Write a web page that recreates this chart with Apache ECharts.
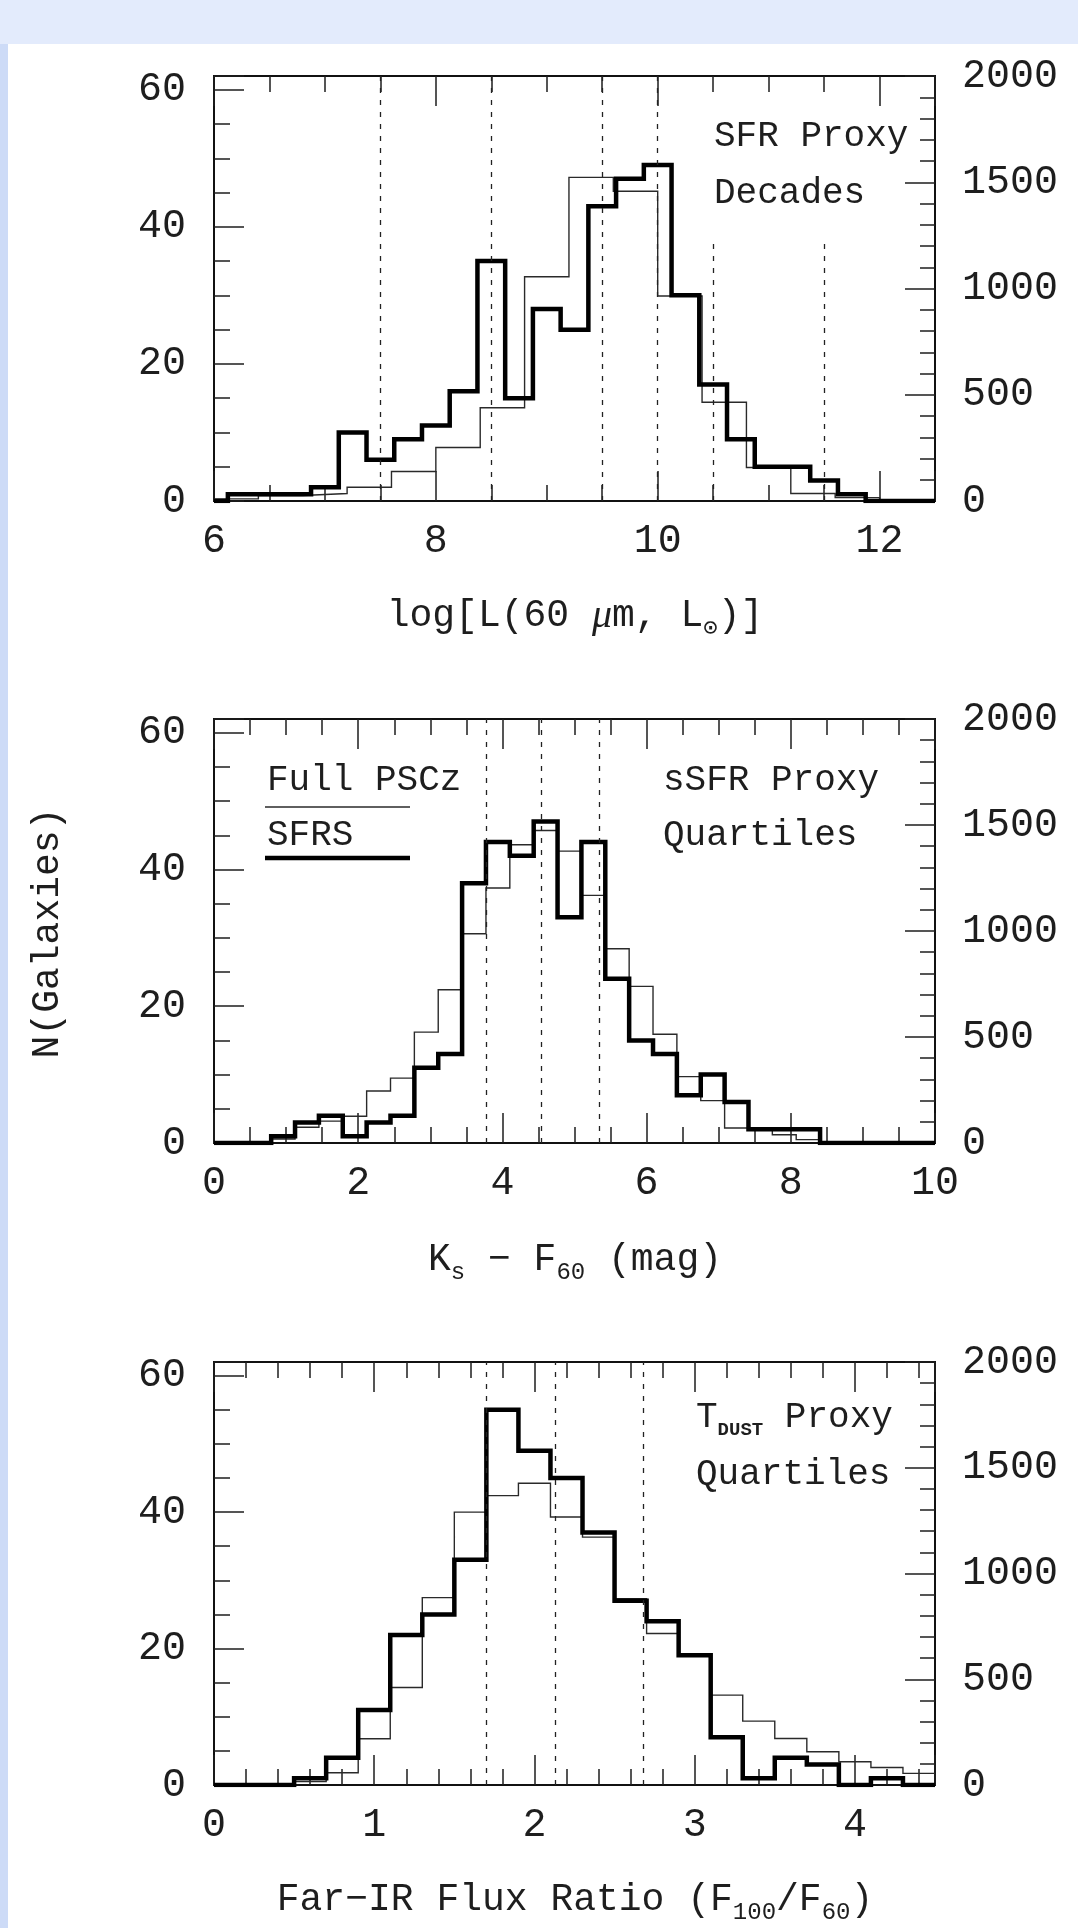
<!DOCTYPE html>
<html>
<head>
<meta charset="utf-8">
<title>SFRS vs PSCz histograms</title>
<script src="https://cdn.jsdelivr.net/npm/echarts@6/dist/echarts.min.js"></script>
<style>
  html, body { margin: 0; padding: 0; background: #e3ebfc; }
  #strip { position: absolute; left: 0; top: 44px; width: 8px; height: 1884px; background: #cddbf7; }
  #paper { position: absolute; left: 8px; top: 44px; width: 1070px; height: 1884px; background: #fff; }
  #main { position: absolute; left: 0; top: 0; width: 1078px; height: 1928px; }
</style>
</head>
<body>
<div id="strip"></div>
<div id="paper"></div>
<div id="main"></div>
<script>
// panel 1 : log L(60um)
var lirRange = [6, 12.5];
var lirSfrsStart = 5.875, lirSfrsWidth = 0.25;
var lirSfrs = [0, 1, 1, 1, 2, 10, 6, 9, 11, 16, 35, 15, 28, 25, 43, 47, 49, 30, 17, 9, 5, 5, 3, 1, 0, 0, 0];
var lirPsczStart = 6.0, lirPsczWidth = 0.4;
var lirPscz = [10, 26, 35, 65, 139, 252, 439, 1055, 1523, 1458, 965, 465, 158, 35, 16, 3, 0];
var lirDecades = [7.5, 8.5, 9.5, 10, 10.5, 11.5];
var lirDecadeTops = [62, 62, 62, 62, 38, 38];

// panel 2 : Ks - F60
var kfRange = [0, 10];
var kfStart = -0.2, kfWidth = 0.331;
var kfSfrs = [0, 0, 0, 1, 3, 4, 1, 3, 4, 11, 13, 38, 44, 42, 47, 33, 44, 24, 15, 13, 7, 10, 6, 2, 2, 2, 0, 0, 0, 0, 0];
var kfPscz = [0, 0, 6, 19, 74, 103, 126, 245, 306, 523, 723, 987, 1203, 1407, 1474, 1377, 1168, 916, 739, 513, 313, 200, 71, 65, 39, 16, 0, 0, 0, 0, 0];
var kfQuartiles = [3.77, 4.54, 5.34];

// panel 3 : F100/F60
var frRange = [0, 4.5];
var frStart = -0.1, frWidth = 0.2;
var frSfrs = [0, 0, 0, 1, 4, 11, 22, 25, 33, 55, 49, 45, 37, 27, 24, 19, 7, 1, 4, 3, 0, 1, 0];
var frPscz = [0, 0, 0, 16, 58, 219, 461, 886, 1290, 1368, 1427, 1267, 1172, 881, 716, 614, 425, 302, 220, 157, 110, 83, 55];
var frQuartiles = [1.7, 2.13, 2.68];

var leftRange = [0, 62];
var rightRange = [0, 2000];

var FONT = 'Liberation Mono, DejaVu Sans Mono, DejaVu Sans';
var INK = '#1e1e1e';

// histogram -> points at bin left edges, for step:'end'
function stepData(start, width, counts, range){
	var pts = [];
	var lastEdge = range[1];
	for (var i = 0; i < counts.length; i++) {
		var x0 = start + i * width;
		if (x0 >= range[1]) break;
		if (x0 + width <= range[0]) continue;
		pts.push([Math.max(x0, range[0]), counts[i]]);
		lastEdge = Math.min(x0 + width, range[1]);
	}
	pts.push([lastEdge, pts[pts.length - 1][1]]);
	return pts;
}

function vLines(xs, tops){
	var out = [];
	for (var i = 0; i < xs.length; i++) {
		out.push([{coord: [xs[i], 0]}, {coord: [xs[i], tops ? tops[i] : leftRange[1]]}]);
	}
	return out;
}

var tickStyle = {color: INK, width: 1.5};

function xAxes(g, range, interval, minorSplit){
	var base = {
		type: 'value', gridIndex: g, min: range[0], max: range[1], interval: interval,
		splitLine: {show: false},
		axisLine: {show: false, onZero: false},
		axisTick: {show: true, inside: true, length: 30, lineStyle: tickStyle},
		minorTick: {show: true, splitNumber: minorSplit, length: 16, lineStyle: tickStyle}
	};
	var bottom = Object.assign({}, base, {
		position: 'bottom',
		axisLabel: {
			show: true, margin: 20, fontFamily: FONT, fontSize: 40, color: INK,
			showMinLabel: true, showMaxLabel: true,
			formatter: function(v){ return (Math.abs(v / interval - Math.round(v / interval)) < 1e-6) ? String(v) : ''; }
		}
	});
	var top = Object.assign({}, base, {position: 'top', axisLabel: {show: false}});
	return [bottom, top];
}

function yAxes(g){
	var left = {
		type: 'value', gridIndex: g, position: 'left', min: leftRange[0], max: leftRange[1], interval: 20,
		splitLine: {show: false}, axisLine: {show: false, onZero: false},
		axisTick: {show: true, inside: true, length: 30, lineStyle: tickStyle},
		minorTick: {show: true, splitNumber: 4, length: 16, lineStyle: tickStyle},
		axisLabel: {
			margin: 28, fontFamily: FONT, fontSize: 40, color: INK,
			formatter: function(v){ return v % 20 === 0 ? String(v) : ''; }
		}
	};
	var right = {
		type: 'value', gridIndex: g, position: 'right', min: rightRange[0], max: rightRange[1], interval: 500,
		splitLine: {show: false}, axisLine: {show: false, onZero: false},
		axisTick: {show: true, inside: true, length: 30, lineStyle: tickStyle},
		minorTick: {show: true, splitNumber: 5, length: 15, lineStyle: tickStyle},
		axisLabel: {
			margin: 27, fontFamily: FONT, fontSize: 40, color: INK,
			formatter: function(v){ return String(v); }
		}
	};
	return [left, right];
}

function psczSeries(g, data){
	return {
		type: 'line', name: 'Full PSCz', xAxisIndex: 2 * g, yAxisIndex: 2 * g + 1,
		data: data, step: 'end', symbol: 'none', silent: true, z: 3,
		lineStyle: {color: '#2a2a2a', width: 1.4, join: 'miter'}
	};
}

function sfrsSeries(g, data, marks){
	return {
		type: 'line', name: 'SFRS', xAxisIndex: 2 * g, yAxisIndex: 2 * g,
		data: data, step: 'end', symbol: 'none', silent: true, z: 4,
		lineStyle: {color: '#000', width: 4.5, join: 'miter'},
		markLine: {
			silent: true, symbol: ['none', 'none'], label: {show: false},
			animation: false,
			lineStyle: {color: '#222', width: 1.3, type: [5, 7]},
			data: marks
		}
	};
}

function grid(top, height){
	return {left: 214, top: top, width: 721, height: height, show: true, borderColor: '#111', borderWidth: 2, backgroundColor: 'transparent'};
}

var t36 = {fontFamily: FONT, fontSize: 36, fill: INK, verticalAlign: 'middle', align: 'left'};
var richTitle = {
	t: {fontFamily: FONT, fontSize: 38, color: INK, lineHeight: 50, verticalAlign: 'middle'},
	i: {fontFamily: 'Liberation Serif, DejaVu Serif', fontStyle: 'italic', fontSize: 40, color: INK, lineHeight: 50, verticalAlign: 'middle'},
	sub: {fontFamily: FONT, fontSize: 24, color: INK, verticalAlign: 'bottom'}
};

function label(x, y, text, extra){
	return {type: 'text', x: x, y: y, silent: true, style: Object.assign({text: text}, t36, extra || {})};
}
function title(y, text){
	return {type: 'text', x: 575, y: y, silent: true,
		style: {text: text, rich: richTitle, align: 'center', verticalAlign: 'middle', fill: INK}};
}

var chart = echarts.init(document.getElementById('main'), null, {renderer: 'canvas'});

var option = {
	animation: false,
	backgroundColor: 'transparent',
	grid: [grid(76, 425), grid(719, 424), grid(1362, 423)],
	xAxis: [].concat(xAxes(0, lirRange, 2, 4), xAxes(1, kfRange, 2, 4), xAxes(2, frRange, 1, 5)),
	yAxis: [].concat(yAxes(0), yAxes(1), yAxes(2)),
	series: [
		psczSeries(0, stepData(lirPsczStart, lirPsczWidth, lirPscz, lirRange)),
		sfrsSeries(0, stepData(lirSfrsStart, lirSfrsWidth, lirSfrs, lirRange), vLines(lirDecades, lirDecadeTops)),
		psczSeries(1, stepData(kfStart, kfWidth, kfPscz, kfRange)),
		sfrsSeries(1, stepData(kfStart, kfWidth, kfSfrs, kfRange), vLines(kfQuartiles)),
		psczSeries(2, stepData(frStart, frWidth, frPscz, frRange)),
		sfrsSeries(2, stepData(frStart, frWidth, frSfrs, frRange), vLines(frQuartiles))
	],
	graphic: [
		label(714, 136, 'SFR Proxy'),
		label(714, 193, 'Decades'),
		label(663, 780, 'sSFR Proxy'),
		label(663, 835, 'Quartiles'),
		{type: 'text', x: 696, y: 1417, silent: true, style: {
			text: '{t|T}{sc|DUST}{t| Proxy}', align: 'left', verticalAlign: 'middle', fill: INK,
			rich: {
				t: {fontFamily: FONT, fontSize: 36, color: INK, lineHeight: 46, verticalAlign: 'middle'},
				sc: {fontFamily: FONT, fontSize: 19, fontWeight: 'bold', color: INK, verticalAlign: 'bottom'}
			}
		}},
		label(696, 1474, 'Quartiles'),
		// legend of the middle panel
		label(267, 780, 'Full PSCz'),
		{type: 'line', silent: true, shape: {x1: 265, y1: 807, x2: 410, y2: 807}, style: {stroke: '#2a2a2a', lineWidth: 1.4}},
		label(267, 835, 'SFRS'),
		{type: 'line', silent: true, shape: {x1: 265, y1: 858, x2: 410, y2: 858}, style: {stroke: '#000', lineWidth: 4.5}},
		// axis titles
		title(616, '{t|log[L(60 }{i|\u03bc}{t|m, L}{sub|\u2299}{t|)]}'),
		title(1260, '{t|K}{sub|s}{t| \u2212 F}{sub|60}{t| (mag)}'),
		title(1900, '{t|Far\u2212IR Flux Ratio (F}{sub|100}{t|/F}{sub|60}{t|)}'),
		{type: 'text', x: 48, y: 933, rotation: Math.PI / 2, silent: true, style: {
			text: 'N(Galaxies)', fontFamily: FONT, fontSize: 38, fill: INK, align: 'center', verticalAlign: 'middle'
		}}
	]
};

chart.setOption(option);
</script>
</body>
</html>
